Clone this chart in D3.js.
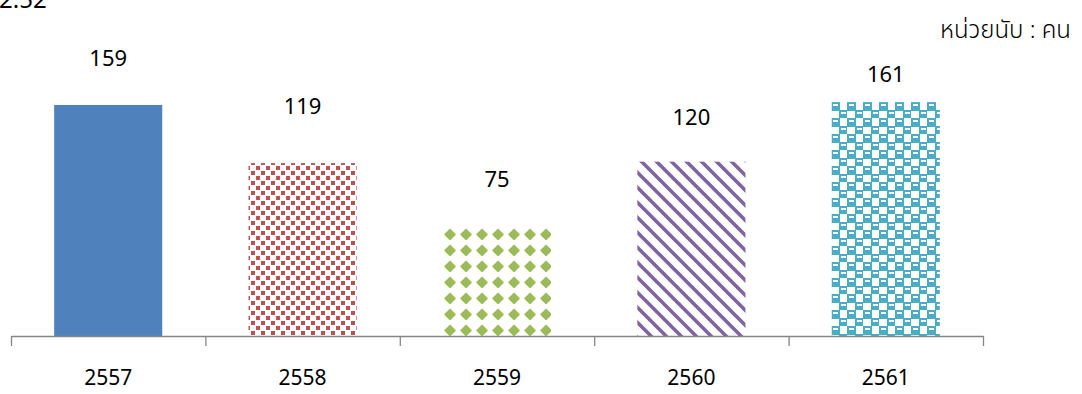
<!DOCTYPE html>
<html><head><meta charset="utf-8">
<script src="https://cdn.jsdelivr.net/npm/d3@7"></script>
<style>body{margin:0;background:#fff}svg{display:block}</style>
</head><body><svg id="c" width="1082" height="394"></svg>
<script>
const categories = ["2557","2558","2559","2560","2561"];
const values = [159,119,75,120,161];
// value-label anchor levels (in data units)
const labelLevels = [190,157.6,106.7,150,179.6];
const unitLabel = "หน่วยนับ : คน";
const cornerLabel = "2.52";

const svg = d3.select("#c");
const x0 = 11, x1 = 983, baseY = 336;

const x = d3.scaleBand().domain(categories).range([x0,x1]).paddingInner(0.444).paddingOuter(0.222);
const y = d3.scaleLinear().domain([0,180]).range([baseY, baseY-180*1.4528]);
const edges = d3.scaleLinear().domain([0,categories.length]).range([x0,x1]);

const defs = svg.append("defs");
// red confetti
let p = defs.append("pattern").attr("id","p1").attr("patternUnits","userSpaceOnUse").attr("width",10).attr("height",10);
p.append("rect").attr("width",10).attr("height",10).attr("fill","#fff");
p.append("rect").attr("x",1).attr("y",1).attr("width",4).attr("height",4).attr("fill","#c0504d");
p.append("rect").attr("x",6).attr("y",6).attr("width",4).attr("height",4).attr("fill","#c0504d");
// green diamonds
p = defs.append("pattern").attr("id","p2").attr("patternUnits","userSpaceOnUse").attr("width",16).attr("height",16).attr("x",442).attr("y",227);
p.append("rect").attr("width",16).attr("height",16).attr("fill","#fff");
p.append("path").attr("d","M8,1.5 L14,7.5 L8,13.5 L2,7.5Z").attr("fill","#9bbb59");
p.append("rect").attr("x",4).attr("y",5.5).attr("width",8).attr("height",4).attr("fill","#9bbb59");
// purple diagonal stripes
p = defs.append("pattern").attr("id","p3").attr("patternUnits","userSpaceOnUse").attr("width",15).attr("height",15);
p.append("rect").attr("width",15).attr("height",15).attr("fill","#fff");
p.append("path").attr("d","M-2,-2 L17,17 M-2,13 L2,17 M13,-2 L17,2").attr("stroke","#8064a2").attr("stroke-width",3.6);
// teal blocks
p = defs.append("pattern").attr("id","p4").attr("patternUnits","userSpaceOnUse").attr("width",16).attr("height",16).attr("x",831).attr("y",102);
p.append("rect").attr("width",16).attr("height",16).attr("fill","#fff");
p.append("rect").attr("x",0).attr("y",0).attr("width",9).attr("height",9).attr("fill","#4bacc6");
p.append("rect").attr("x",8).attr("y",8).attr("width",9).attr("height",9).attr("fill","#4bacc6");
p.append("rect").attr("x",2).attr("y",2).attr("width",5).attr("height",2).attr("fill","#fff");
p.append("rect").attr("x",10).attr("y",10).attr("width",5).attr("height",2).attr("fill","#fff");

const fills = ["#4f81bd","url(#p1)","url(#p2)","url(#p3)","url(#p4)"];

svg.append("g").selectAll("rect").data(values).join("rect")
  .attr("x",(d,i)=>x(categories[i]))
  .attr("width",x.bandwidth())
  .attr("y",d=>y(d))
  .attr("height",d=>y(0)-y(d))
  .attr("fill",(d,i)=>fills[i]);

const axis = svg.append("g").attr("transform",`translate(0,${baseY})`)
  .call(d3.axisBottom(edges).tickValues(d3.range(categories.length+1)).tickSize(10).tickSizeOuter(0).tickFormat(""));
axis.selectAll("path,line").attr("stroke","#868686").attr("stroke-width",1.3);

const font = "'Noto Sans Thai','Noto Sans','DejaVu Sans',sans-serif";
svg.append("g").selectAll("text").data(categories).join("text")
  .attr("x",d=>x(d)+x.bandwidth()/2).attr("y",385)
  .attr("text-anchor","middle")
  .attr("font-family",font).attr("font-size",21).attr("fill","#000").text(d=>d);

svg.append("g").selectAll("text").data(values).join("text")
  .attr("x",(d,i)=>x(categories[i])+x.bandwidth()/2).attr("y",(d,i)=>y(labelLevels[i]))
  .attr("text-anchor","middle").attr("dominant-baseline","central")
  .attr("font-family",font).attr("font-size",22).attr("fill","#000").text(d=>d);

svg.append("text").attr("x",1071).attr("y",38).attr("text-anchor","end")
  .attr("font-family",font).attr("font-size",24).attr("font-weight",300).attr("fill","#000").text(unitLabel);
svg.append("text").attr("x",-1).attr("y",8)
  .attr("font-family",font).attr("font-size",24).attr("fill","#000").text(cornerLabel);
</script></body></html>
